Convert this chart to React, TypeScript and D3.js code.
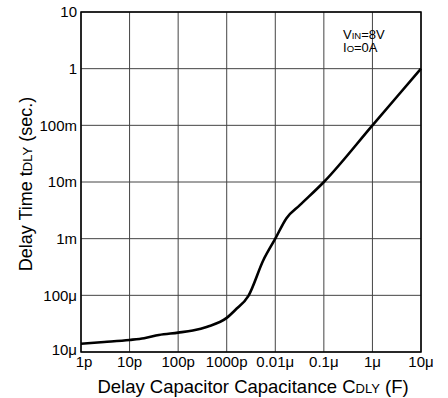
import React from "react";
import * as d3 from "d3";

const capValues = [1e-12, 3e-12, 1e-11, 2e-11, 4e-11, 1e-10, 2e-10, 4e-10, 1e-9, 1.5e-9, 2.8e-9, 5.7e-9, 1e-8, 1.7e-8, 3.2e-8, 1e-7, 1e-6, 1e-5];
const delayValues = [1.4e-5, 1.5e-5, 1.63e-5, 1.75e-5, 2.0e-5, 2.2e-5, 2.4e-5, 2.8e-5, 4.0e-5, 5.5e-5, 9.8e-5, 4.2e-4, 1e-3, 2.3e-3, 3.9e-3, 1e-2, 1e-1, 1];

const xTickValues = [1e-12, 1e-11, 1e-10, 1e-9, 1e-8, 1e-7, 1e-6, 1e-5];
const xTickLabels = ["1p", "10p", "100p", "1000p", "0.01μ", "0.1μ", "1μ", "10μ"];
const yTickValues = [1e-5, 1e-4, 1e-3, 1e-2, 1e-1, 1, 10];
const yTickLabels = ["10μ", "100μ", "1m", "10m", "100m", "1", "10"];

const W = 448, H = 398;
const L = 81, T = 12, R = 421, B = 352;
const font = "Liberation Sans, Arial, Helvetica, sans-serif";

export default function App() {
  const x = d3.scaleLog().domain([1e-12, 1e-5]).range([L, R]);
  const y = d3.scaleLog().domain([1e-5, 10]).range([B, T]);
  const pts: [number, number][] = capValues.map((c, i) => [x(c), y(delayValues[i])]);
  const line = d3.line().curve(d3.curveMonotoneX)(pts) || "";

  return (
    <svg width={W} height={H} style={{ position: "absolute", left: 0, top: 0, background: "#fff" }} fontFamily={font}>
      <rect x={0} y={0} width={W} height={H} fill="#fff" />
      {xTickValues.map((v, i) => (
        <line key={"gx" + i} x1={x(v)} x2={x(v)} y1={T} y2={B} stroke="#444" strokeWidth={1} />
      ))}
      {yTickValues.map((v, i) => (
        <line key={"gy" + i} x1={L} x2={R} y1={y(v)} y2={y(v)} stroke="#444" strokeWidth={1} />
      ))}
      <rect x={L} y={T} width={R - L} height={B - T} fill="none" stroke="#000" strokeWidth={1.5} />
      <path d={line} fill="none" stroke="#000" strokeWidth={2.6} strokeLinejoin="round" />
      {yTickValues.map((v, i) => (
        <text key={"ty" + i} x={L - 4} y={y(v) - (i === 0 ? 2 : 0)} dy="0.36em" textAnchor="end" fontSize={15} fill="#000">
          {yTickLabels[i]}
        </text>
      ))}
      {xTickValues.map((v, i) => (
        <text key={"tx" + i} x={x(v) + (i === 0 ? 3 : 0)} y={B + 15} textAnchor="middle" fontSize={15} fill="#000">
          {xTickLabels[i]}
        </text>
      ))}
      <text x={(L + R) / 2 + 2} y={393} textAnchor="middle" fontSize={18.5} fill="#000">
        Delay Capacitor Capacitance C<tspan fontSize={13}>DLY</tspan> (F)
      </text>
      <text transform={`translate(32,184) rotate(-90)`} textAnchor="middle" fontSize={18} fill="#000">
        Delay Time t<tspan fontSize={13}>DLY</tspan> (sec.)
      </text>
      <text x={343} y={38.5} fontSize={13} fill="#000">
        V<tspan fontSize={9.5}>IN</tspan>=8V
      </text>
      <text x={343} y={52} fontSize={13} fill="#000">
        I<tspan fontSize={9.5}>O</tspan>=0A
      </text>
    </svg>
  );
}
